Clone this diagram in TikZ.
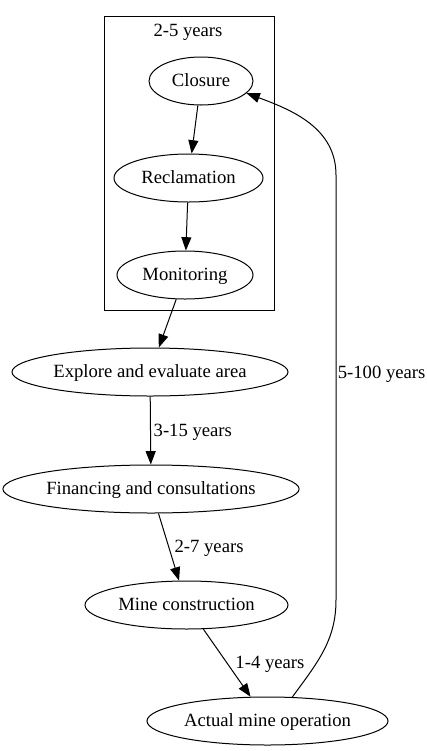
\documentclass[tikz,border=0pt]{standalone}
\usepackage{fontspec}
\setmainfont{Liberation Serif}
\newfontfamily\gvfont{Liberation Serif}
\usetikzlibrary{shapes.geometric,arrows.meta}

\tikzset{
  gvnode/.style={draw, ellipse, inner sep=0pt, text height=11pt, text depth=2.5pt,
    minimum height=36pt, minimum width=#1*0.75pt},
  gvedge/.style={-{Triangle[length=10pt,width=7.5pt]}},
  lbl/.style={anchor=west, inner sep=1pt, text height=11pt, text depth=2.5pt}
}

\begin{document}
\begin{tikzpicture}[x=0.75pt, y=-0.75pt, line width=0.75pt,
  font=\gvfont\fontsize{14pt}{17pt}\selectfont]

\useasboundingbox (0,0) rectangle (426,751);

% cluster of the closing phase
\node (cluster) [draw, rectangle, minimum width=127.5pt, minimum height=220.5pt] at (189,163) {};
\node (clusterlbl) [text height=11pt, text depth=2.5pt] at (188,31) {2-5 years};

\node (closure) [gvnode=104] at (201,81) {Closure};
\node (reclam) [gvnode=149] at (188.5,178) {Reclamation};
\node (monitor) [gvnode=136] at (185,275) {Monitoring};

\node (explore) [gvnode=276] at (150,372) {Explore and evaluate area};
\node (finance) [gvnode=294] at (151,489) {Financing and consultations};
\node (build) [gvnode=203] at (186.5,605) {Mine construction};
\node (operate) [gvnode=241] at (267.5,721) {Actual mine operation};

\draw[gvedge] (closure) -- (reclam);
\draw[gvedge] (reclam) -- (monitor);
\draw[gvedge] (monitor) -- (explore);
\draw[gvedge] (explore) -- node[lbl, xshift=1pt] {3-15 years} (finance);
\draw[gvedge] (finance) -- node[lbl, xshift=3pt] {2-7 years} (build);
\draw[gvedge] (build) -- node[lbl, xshift=5pt] {1-4 years} (operate);

% back edge to closure
\draw[gvedge] (operate.44) .. controls (318,662) and (336,640) .. (336,600)
  -- node[lbl, pos=0.535] {5-100 years} (336,175)
  .. controls (336,128) and (292,110) .. (closure.-15);

\end{tikzpicture}
\end{document}
